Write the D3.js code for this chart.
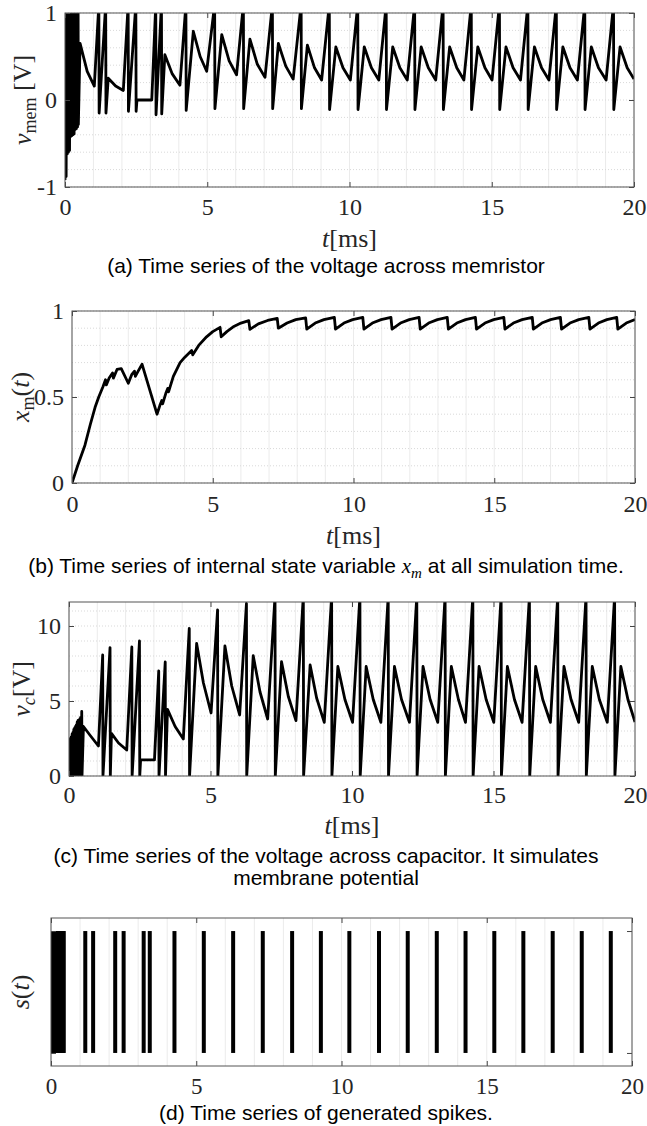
<!DOCTYPE html>
<html>
<head>
<meta charset="utf-8">
<script src="https://cdn.jsdelivr.net/npm/d3@7"></script>
<style>
  body { margin: 0; background: #fff; }
  svg { display: block; }
  .caption { font-family: 'Liberation Sans', Arial, sans-serif; font-size: 21px; fill: #000; }
  .axis-label { font-family: 'Liberation Serif', serif; font-size: 26px; fill: #262626; }
  .tick text { font-family: 'Liberation Serif', serif; }
</style>
</head>
<body>
<svg id="chart"></svg>
<script>
/* global d3 */

// ---- data ----
const xTickValues = [0, 5, 10, 15, 20]
const memTickValues = [-1, 0, 1]
const stateTickValues = [0, 0.5, 1]
const capTickValues = [0, 5, 10]

// (a) voltage across memristor [t ms, V]
const memVoltage = [
  [0, -0.92], [0.02, 1.1], [0.04, -0.88], [0.06, 1.1], [0.08, -0.62], [0.10, 1.1], [0.12, -0.6], [0.14, 1.1],
  [0.16, -0.58], [0.18, 1.1], [0.20, -0.42], [0.22, 1.1], [0.24, -0.41], [0.26, 1.1], [0.28, -0.4], [0.30, 1.1],
  [0.32, -0.39], [0.34, 1.1], [0.36, -0.34], [0.38, 1.1], [0.40, -0.33], [0.42, 1.1], [0.44, -0.31], [0.46, 1.1],
  [0.47, -0.28], [0.53, 0.65], [0.78, 0.33], [1.03, 0.16], [1.19, 1.1], [1.20, -0.15], [1.43, 1.1], [1.44, -0.15],
  [1.52, 0.25], [1.78, 0.16], [2.05, 0.11], [2.22, 1.1], [2.23, -0.13], [2.49, 1.1], [2.50, -0.13], [2.53, 0],
  [3.05, 0], [3.19, 1.1], [3.20, -0.17], [3.39, 1.1], [3.40, -0.16], [3.51, 0.52], [3.77, 0.3], [4.04, 0.17],
  [4.25, 1.1], [4.26, -0.12], [4.51, 0.79], [4.75, 0.5], [4.98, 0.33], [5.26, 1.1], [5.27, -0.1], [5.51, 0.75],
  [5.77, 0.45], [6.03, 0.29], [6.27, 1.1], [6.28, -0.1], [6.50, 0.7], [6.76, 0.41], [7.03, 0.26], [7.29, 1.1],
  [7.30, -0.1], [7.50, 0.65], [7.76, 0.39], [8.02, 0.24], [8.30, 1.1], [8.31, -0.1], [8.52, 0.63], [8.77, 0.37],
  [9.02, 0.23], [9.29, 1.1], [9.30, -0.11], [9.52, 0.61], [9.77, 0.37], [10.03, 0.23], [10.29, 1.1], [10.30, -0.11],
  [10.52, 0.61], [10.77, 0.37], [11.03, 0.23], [11.29, 1.1], [11.30, -0.11], [11.52, 0.61], [11.77, 0.37], [12.03, 0.23],
  [12.29, 1.1], [12.30, -0.11], [12.52, 0.61], [12.77, 0.37], [13.03, 0.23], [13.29, 1.1], [13.30, -0.11], [13.52, 0.61],
  [13.77, 0.37], [14.02, 0.23], [14.28, 1.1], [14.29, -0.11], [14.51, 0.61], [14.76, 0.37], [15.01, 0.23], [15.27, 1.1],
  [15.28, -0.11], [15.50, 0.61], [15.75, 0.37], [16.01, 0.23], [16.27, 1.1], [16.28, -0.11], [16.50, 0.61], [16.75, 0.37],
  [17.01, 0.23], [17.27, 1.1], [17.28, -0.11], [17.50, 0.61], [17.75, 0.37], [18.01, 0.23], [18.27, 1.1], [18.28, -0.11],
  [18.50, 0.61], [18.75, 0.37], [19.02, 0.23], [19.28, 1.1], [19.29, -0.11], [19.51, 0.61], [19.76, 0.37], [20, 0.24]
]

// (b) internal state variable x_m
const stateVar = [
  [0, 0], [0.2, 0.1], [0.46, 0.22], [0.65, 0.34], [0.82, 0.44], [0.95, 0.5], [1.1, 0.56], [1.19, 0.6],
  [1.22, 0.57], [1.32, 0.61], [1.44, 0.64], [1.47, 0.61], [1.6, 0.66], [1.75, 0.665], [2.0, 0.58], [2.12, 0.63],
  [2.22, 0.65], [2.25, 0.62], [2.35, 0.65], [2.49, 0.69], [3.02, 0.40], [3.12, 0.45], [3.19, 0.48], [3.22, 0.46],
  [3.33, 0.52], [3.40, 0.55], [3.43, 0.53], [3.6, 0.62], [3.84, 0.70], [4.0, 0.73], [4.25, 0.77], [4.29, 0.745],
  [4.5, 0.80], [4.78, 0.85], [5.0, 0.88], [5.26, 0.905], [5.30, 0.85], [5.5, 0.88], [5.75, 0.91], [6.0, 0.93],
  [6.28, 0.944], [6.32, 0.893], [6.62, 0.925], [6.95, 0.945], [7.29, 0.957], [7.33, 0.90], [7.64, 0.93], [7.95, 0.95],
  [8.30, 0.96], [8.34, 0.895], [8.64, 0.93], [8.95, 0.95], [9.32, 0.963], [9.36, 0.895], [9.66, 0.93], [9.97, 0.95],
  [10.33, 0.963], [10.37, 0.895], [10.67, 0.93], [10.98, 0.95], [11.33, 0.963], [11.37, 0.895], [11.67, 0.93], [11.98, 0.95],
  [12.33, 0.963], [12.37, 0.895], [12.67, 0.93], [12.98, 0.95], [13.33, 0.963], [13.37, 0.895], [13.67, 0.93], [13.98, 0.95],
  [14.33, 0.963], [14.37, 0.895], [14.67, 0.93], [14.98, 0.95], [15.34, 0.963], [15.38, 0.895], [15.68, 0.93], [15.99, 0.95],
  [16.35, 0.963], [16.39, 0.895], [16.69, 0.93], [17.0, 0.95], [17.35, 0.963], [17.39, 0.895], [17.69, 0.93], [18.0, 0.95],
  [18.36, 0.963], [18.40, 0.895], [18.70, 0.93], [19.0, 0.95], [19.35, 0.963], [19.39, 0.895], [19.69, 0.93], [20, 0.95]
]

// (c) voltage across capacitor (membrane potential)
const capVoltage = [
  [0, 0], [0.02, 2.4], [0.03, 0], [0.05, 2.5], [0.06, 0], [0.08, 2.6], [0.09, 0], [0.11, 2.8], [0.12, 0],
  [0.14, 2.9], [0.15, 0], [0.17, 3.1], [0.18, 0], [0.20, 3.2], [0.21, 0], [0.23, 3.3], [0.24, 0], [0.26, 3.4],
  [0.27, 0], [0.29, 3.6], [0.30, 0], [0.32, 3.7], [0.33, 0], [0.35, 3.7], [0.36, 0], [0.38, 3.8], [0.39, 0],
  [0.41, 3.9], [0.42, 0], [0.45, 4.3], [0.46, 0], [0.51, 3.3], [0.75, 2.7], [1.04, 2.0], [1.19, 8.07], [1.20, 0],
  [1.45, 8.56], [1.46, 0], [1.50, 2.84], [1.75, 2.2], [2.04, 1.73], [2.22, 8.6], [2.23, 0], [2.49, 9.0], [2.50, 0],
  [2.53, 1.07], [3.02, 1.07], [3.17, 7.0], [3.18, 0], [3.40, 7.6], [3.41, 0], [3.48, 4.44], [3.75, 3.3], [4.04, 2.47],
  [4.25, 9.84], [4.26, 0], [4.51, 8.84], [4.75, 6.2], [5.02, 4.2], [5.25, 11.07], [5.26, 0], [5.51, 8.67], [5.75, 6.0],
  [6.03, 4.07], [6.27, 11.5], [6.28, 0], [6.51, 8.02], [6.75, 5.6], [7.02, 3.8], [7.28, 12], [7.29, 0], [7.51, 7.62],
  [7.75, 5.3], [8.02, 3.69], [8.28, 12], [8.29, 0], [8.52, 7.4], [8.75, 5.2], [9.02, 3.58], [9.28, 12], [9.29, 0],
  [9.50, 7.3], [9.75, 5.1], [10.02, 3.58], [10.28, 12], [10.29, 0], [10.50, 7.3], [10.75, 5.1], [11.02, 3.58],
  [11.28, 12], [11.29, 0], [11.50, 7.3], [11.75, 5.1], [12.03, 3.58], [12.29, 12], [12.30, 0], [12.51, 7.3],
  [12.76, 5.1], [13.03, 3.58], [13.29, 12], [13.30, 0], [13.51, 7.3], [13.76, 5.1], [14.01, 3.58], [14.27, 12],
  [14.28, 0], [14.49, 7.3], [14.74, 5.1], [15.01, 3.58], [15.27, 12], [15.28, 0], [15.49, 7.3], [15.74, 5.1],
  [16.01, 3.58], [16.27, 12], [16.28, 0], [16.49, 7.3], [16.74, 5.1], [17.01, 3.58], [17.27, 12], [17.28, 0],
  [17.49, 7.3], [17.74, 5.1], [18.01, 3.58], [18.27, 12], [18.28, 0], [18.49, 7.3], [18.74, 5.1], [19.02, 3.58],
  [19.28, 12], [19.29, 0], [19.50, 7.3], [19.75, 5.1], [20, 3.6]
]

// (d) generated spike times [ms]
const spikeTimes = [
  0.02, 0.05, 0.08, 0.11, 0.14, 0.17, 0.20, 0.23, 0.26, 0.29, 0.32, 0.35, 0.38, 0.41, 0.44,
  1.18, 1.45, 2.21, 2.50, 3.19, 3.40, 4.25, 5.26, 6.27, 7.29, 8.30, 9.29, 10.27, 11.29,
  12.28, 13.28, 14.27, 15.26, 16.26, 17.27, 18.27, 19.27
]

// ---- drawing ----
const svgWidth = 647
const svgHeight = 1126
const serif = "'Liberation Serif', 'Times New Roman', serif"

const svg = d3.select('#chart')
  .attr('width', svgWidth)
  .attr('height', svgHeight)

// write a LaTeX-ish label from parts: { t, italic, sub }
function mathText (sel, parts, subSize) {
  let shifted = false
  parts.forEach(p => {
    const ts = sel.append('tspan').text(p.t)
    if (p.italic) ts.attr('font-style', 'italic')
    if (p.sub && !shifted) { ts.attr('font-size', subSize).attr('dy', subSize * 0.3); shifted = true }
    if (!p.sub && shifted) { ts.attr('dy', -subSize * 0.3); shifted = false }
  })
}

function drawPanel (p) {
  const g = svg.append('g')
  const x = d3.scaleLinear().domain([0, 20]).range([p.left, p.right])
  const y = d3.scaleLinear().domain(p.yDomain).range([p.bottom, p.top])

  // minor grid
  g.append('g').selectAll('line')
    .data(x.ticks(20))
    .join('line')
    .attr('x1', d => x(d)).attr('x2', d => x(d))
    .attr('y1', p.top).attr('y2', p.bottom)
    .attr('stroke', '#ebebeb')
    .attr('stroke-width', 1)

  if (p.yGrid) {
    g.append('g').selectAll('line')
      .data(y.ticks(p.yGrid))
      .join('line')
      .attr('x1', p.left).attr('x2', p.right)
      .attr('y1', d => y(d)).attr('y2', d => y(d))
      .attr('stroke', '#d9d9d9')
      .attr('stroke-dasharray', '1,2')
  }

  const clipId = 'clip-' + p.id
  svg.append('clipPath').attr('id', clipId)
    .append('rect')
    .attr('x', p.left).attr('y', p.top)
    .attr('width', p.right - p.left).attr('height', p.bottom - p.top)

  const plot = g.append('g').attr('clip-path', `url(#${clipId})`)
  if (p.series) {
    plot.append('path')
      .datum(p.series)
      .attr('fill', 'none')
      .attr('stroke', '#000')
      .attr('stroke-width', 2.8)
      .attr('stroke-linejoin', 'round')
      .attr('d', d3.line().x(d => x(d[0])).y(d => y(d[1])))
  }
  if (p.spikes) {
    plot.selectAll('.spike')
      .data(p.spikes)
      .join('line')
      .attr('class', 'spike')
      .attr('x1', d => x(d)).attr('x2', d => x(d))
      .attr('y1', y(0)).attr('y2', y(1))
      .attr('stroke', '#000')
      .attr('stroke-width', 4)
  }

  // axes (inward ticks, MATLAB style)
  const styleAxis = a => {
    a.select('.domain').remove()
    a.selectAll('line').attr('stroke', '#444')
    a.attr('font-family', serif).attr('font-size', p.tickSize)
    a.selectAll('text').attr('fill', '#262626').style('font-family', serif)
  }
  g.append('g')
    .attr('transform', `translate(0,${p.bottom})`)
    .call(d3.axisBottom(x).tickValues(xTickValues).tickSize(-5).tickPadding(p.xPad).tickFormat(d3.format('d')))
    .call(styleAxis)
  g.append('g')
    .attr('transform', `translate(0,${p.top})`)
    .call(d3.axisTop(x).tickValues(xTickValues).tickSize(-5).tickFormat(''))
    .call(styleAxis)
  g.append('g')
    .attr('transform', `translate(${p.left},0)`)
    .call(d3.axisLeft(y).tickValues(p.yTicks).tickSize(-5).tickPadding(8)
      .tickFormat(p.yLabels ? d => String(d) : ''))
    .call(styleAxis)
  g.append('g')
    .attr('transform', `translate(${p.right},0)`)
    .call(d3.axisRight(y).tickValues(p.yTicks).tickSize(-5).tickFormat(''))
    .call(styleAxis)

  // box
  g.append('rect')
    .attr('x', p.left).attr('y', p.top)
    .attr('width', p.right - p.left).attr('height', p.bottom - p.top)
    .attr('fill', 'none')
    .attr('stroke', '#555')
    .attr('stroke-width', 1)

  // y label
  const yl = g.append('text')
    .attr('class', 'axis-label')
    .attr('text-anchor', 'middle')
    .attr('transform', `translate(${p.yLabelX},${(p.top + p.bottom) / 2}) rotate(-90)`)
  mathText(yl, p.yLabel, 18)

  // x label
  if (p.xLabelY) {
    const xl = g.append('text')
      .attr('class', 'axis-label')
      .attr('text-anchor', 'middle')
      .attr('x', (p.left + p.right) / 2)
      .attr('y', p.xLabelY)
    mathText(xl, [{ t: 't', italic: true }, { t: '[ms]' }], 18)
  }

  // caption
  p.caption.forEach((line, i) => {
    const c = svg.append('text')
      .attr('class', 'caption')
      .attr('text-anchor', 'middle')
      .attr('x', 326)
      .attr('y', p.captionY + i * 22)
    line.forEach(part => {
      const ts = c.append('tspan').text(part.t)
      if (part.math) ts.attr('font-family', serif).attr('font-style', 'italic')
      if (part.sub) ts.attr('font-size', 15).attr('dy', 5)
      if (part.after) ts.attr('dy', -5)
    })
  })
}

drawPanel({
  id: 'a', left: 65, right: 634, top: 13, bottom: 187,
  yDomain: [-1, 1], yGrid: 10, yTicks: memTickValues, yLabels: true,
  series: memVoltage, xPad: 11, tickSize: 24,
  yLabelX: 31, yLabel: [{ t: 'v', italic: true }, { t: 'mem', sub: true }, { t: ' [V]' }],
  xLabelY: 247,
  caption: [[{ t: '(a) Time series of the voltage across memristor' }]],
  captionY: 273
})

drawPanel({
  id: 'b', left: 72, right: 635, top: 311, bottom: 483,
  yDomain: [0, 1], yGrid: 10, yTicks: stateTickValues, yLabels: true,
  series: stateVar, xPad: 12, tickSize: 24,
  yLabelX: 29, yLabel: [{ t: 'x', italic: true }, { t: 'm', sub: true }, { t: '(' }, { t: 't', italic: true }, { t: ')' }],
  xLabelY: 544,
  caption: [[
    { t: '(b) Time series of internal state variable ' },
    { t: 'x', math: true }, { t: 'm', math: true, sub: true },
    { t: ' at all simulation time.', after: true }
  ]],
  captionY: 573
})

drawPanel({
  id: 'c', left: 69, right: 635, top: 602, bottom: 776,
  yDomain: [0, 11.6], yGrid: 12, yTicks: capTickValues, yLabels: true,
  series: capVoltage, xPad: 10, tickSize: 24,
  yLabelX: 30, yLabel: [{ t: 'v', italic: true }, { t: 'c', italic: true, sub: true }, { t: '[V]' }],
  xLabelY: 834,
  caption: [
    [{ t: '(c) Time series of the voltage across capacitor. It simulates' }],
    [{ t: 'membrane potential' }]
  ],
  captionY: 863
})

drawPanel({
  id: 'd', left: 51, right: 632, top: 918, bottom: 1066,
  yDomain: [-0.107, 1.107], yGrid: 0, yTicks: [0, 1], yLabels: false,
  spikes: spikeTimes, xPad: 12, tickSize: 23,
  yLabelX: 29, yLabel: [{ t: 's', italic: true }, { t: '(' }, { t: 't', italic: true }, { t: ')' }],
  xLabelY: 0,
  caption: [[{ t: '(d) Time series of generated spikes.' }]],
  captionY: 1120
})
</script>
</body>
</html>
